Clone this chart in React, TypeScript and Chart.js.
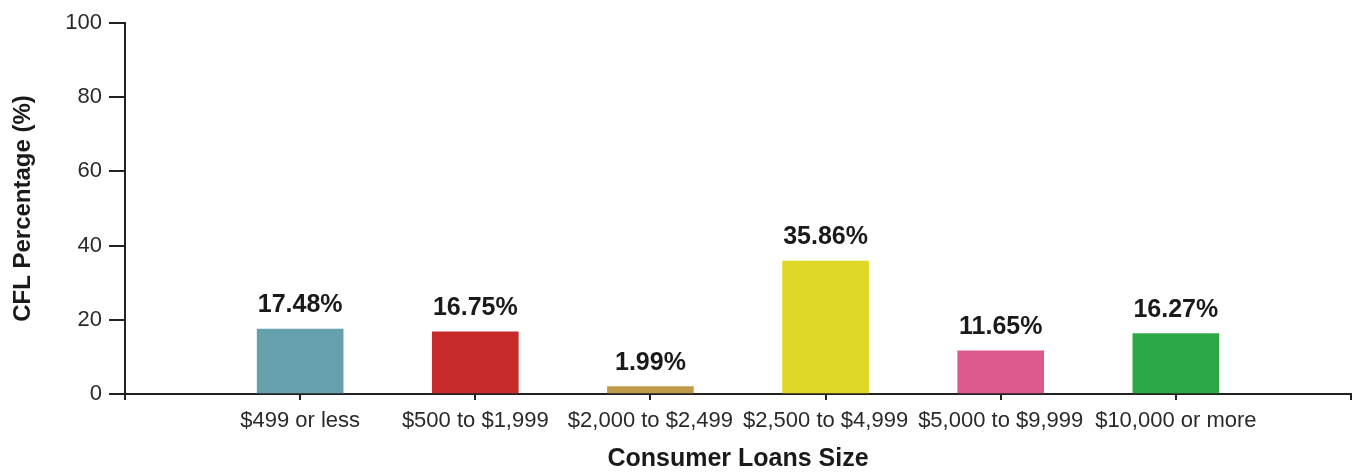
import React, { useEffect, useRef } from "react";
import { Chart, registerables } from "chart.js";

Chart.register(...registerables);

const categories: string[] = [
  "",
  "$499 or less",
  "$500 to $1,999",
  "$2,000 to $2,499",
  "$2,500 to $4,999",
  "$5,000 to $9,999",
  "$10,000 or more",
  "",
];
const values: (number | null)[] = [null, 17.48, 16.75, 1.99, 35.86, 11.65, 16.27, null];
const barColors: string[] = ["#ffffff", "#66a0ac", "#c72a2a", "#c09b4b", "#e0d826", "#dd5a8e", "#2ea847", "#ffffff"];
const yTicks: number[] = [0, 20, 40, 60, 80, 100];

const FONT = "'Liberation Sans', Arial, sans-serif";
const AXIS_COLOR = "#222222";

const labelPlugin = {
  id: "barValueLabels",
  afterDatasetsDraw(chart: any) {
    const ctx = chart.ctx;
    const meta = chart.getDatasetMeta(0);
    ctx.save();
    ctx.font = `bold 25px ${FONT}`;
    ctx.fillStyle = "#1a1a1a";
    ctx.textAlign = "center";
    ctx.textBaseline = "alphabetic";
    meta.data.forEach((el: any, i: number) => {
      const v = values[i];
      if (v === null || v === undefined) return;
      ctx.fillText(v.toFixed(2) + "%", el.x, el.y - 17);
    });
    ctx.restore();
  },
};

export default function App() {
  const canvasRef = useRef<HTMLCanvasElement | null>(null);

  useEffect(() => {
    if (!canvasRef.current) return;
    const chart = new Chart(canvasRef.current, {
      type: "bar",
      data: {
        labels: categories,
        datasets: [
          {
            data: values,
            backgroundColor: barColors,
            borderWidth: 0,
            barThickness: 86,
          },
        ],
      },
      options: {
        animation: false,
        responsive: true,
        maintainAspectRatio: false,
        layout: { padding: { left: 0, top: 23, right: 6, bottom: 0 } },
        plugins: {
          legend: { display: false },
          tooltip: { enabled: false },
        },
        scales: {
          x: {
            type: "category",
            offset: false,
            grid: {
              display: true,
              offset: false,
              drawOnChartArea: false,
              drawTicks: true,
              tickLength: 6,
              color: AXIS_COLOR,
              lineWidth: 2,
            },
            border: { display: true, color: AXIS_COLOR, width: 2 },
            ticks: {
              autoSkip: false,
              maxRotation: 0,
              minRotation: 0,
              padding: 8,
              color: "#2a2a2a",
              font: { family: FONT, size: 22 },
            },
            title: {
              display: true,
              text: "Consumer Loans Size",
              color: "#1a1a1a",
              font: { family: FONT, size: 25, weight: "bold", lineHeight: 1 },
              padding: { top: 0, bottom: 0 },
            },
            afterFit: (scale: any) => {
              scale.height = 78;
            },
          },
          y: {
            min: 0,
            max: 100,
            afterBuildTicks: (scale: any) => {
              scale.ticks = yTicks.map((v) => ({ value: v }));
            },
            grid: {
              display: true,
              drawOnChartArea: false,
              drawTicks: true,
              tickLength: 16,
              color: AXIS_COLOR,
              lineWidth: 2,
            },
            border: { display: true, color: AXIS_COLOR, width: 2 },
            ticks: {
              padding: 7,
              color: "#2a2a2a",
              font: { family: FONT, size: 22 },
            },
            title: {
              display: true,
              text: "CFL Percentage (%)",
              color: "#1a1a1a",
              font: { family: FONT, size: 24, weight: "bold", lineHeight: 1 },
              padding: { top: 11, bottom: 0 },
            },
            afterFit: (scale: any) => {
              scale.width = 125;
            },
          },
        },
      },
      plugins: [labelPlugin],
    });
    return () => chart.destroy();
  }, []);

  return (
    <div style={{ position: "fixed", left: 0, top: 0, width: 1359, height: 472, background: "#ffffff" }}>
      <canvas ref={canvasRef} />
    </div>
  );
}
